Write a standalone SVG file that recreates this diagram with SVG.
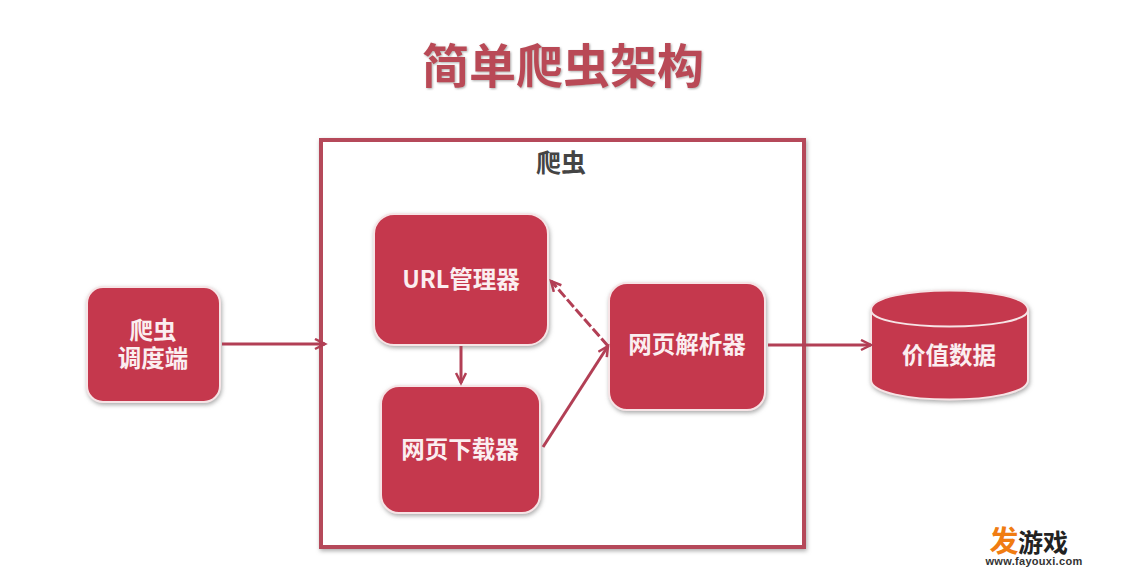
<svg xmlns="http://www.w3.org/2000/svg" width="1128" height="574" viewBox="0 0 1128 574">
<style>
text{font-family:"Noto Sans CJK SC","Liberation Sans",sans-serif;font-weight:700;text-anchor:middle}
.n{fill:#c5394d;stroke:#f6e4e6;stroke-width:2;filter:url(#s)}
.l{fill:#fbeef0;font-size:23.5px}
.c{fill:none;stroke:#b23f55;stroke-width:3}
</style>
<defs>
<filter id="s" x="-10%" y="-10%" width="120%" height="120%"><feDropShadow dx="1" dy="2" stdDeviation="2" flood-color="#888" flood-opacity=".7"/></filter>
<filter id="t" x="-5%" y="-10%" width="110%" height="120%"><feDropShadow dx="1" dy="1" stdDeviation="1" flood-color="#777" flood-opacity=".6"/></filter>
<marker id="a" markerWidth="14" markerHeight="14" refX="11" refY="6" orient="auto" markerUnits="userSpaceOnUse"><path d="M1 1L11 6L1 11" fill="none" stroke="#b23f55" stroke-width="2.5"/></marker>
</defs>
<rect width="1128" height="574" fill="#fff"/>
<text x="563" y="83" font-size="47" fill="#b94a56" filter="url(#t)">简单爬虫架构</text>
<g id="crawler"><rect x="321" y="140" width="483" height="407" fill="#fff" stroke="#b5495a" stroke-width="4" filter="url(#s)"/><text x="561" y="172" font-size="25" fill="#444">爬虫</text></g>
<g id="scheduler"><rect class="n" x="87" y="287" width="133" height="115" rx="16"/><text class="l"><tspan x="153" y="339">爬虫</tspan><tspan x="153" y="367">调度端</tspan></text></g>
<g id="url"><rect class="n" x="374" y="214" width="174" height="131" rx="20"/><text class="l" x="461" y="288">URL管理器</text></g>
<g id="downloader"><rect class="n" x="381" y="386" width="159" height="127" rx="18"/><text class="l" x="460" y="458">网页下载器</text></g>
<g id="parser"><rect class="n" x="609" y="283" width="156" height="127" rx="18"/><text class="l" x="687" y="353">网页解析器</text></g>
<g id="data"><path class="n" d="M871 310C871 284 1028 284 1028 310V380C1028 406 871 406 871 380Z"/><path d="M871 310C871 332 1028 332 1028 310" fill="none" stroke="#f6e4e6" stroke-width="2"/><text class="l" x="949" y="364">价值数据</text></g>
<g id="connectors">
<path class="c" marker-end="url(#a)" d="M222 344H325"/>
<path class="c" marker-end="url(#a)" d="M461 346V383"/>
<path class="c" marker-end="url(#a)" d="M543 447L608 346"/>
<path class="c" marker-end="url(#a)" stroke-width="4" stroke-dasharray="10 3" d="M608 346L551 281"/>
<path class="c" marker-end="url(#a)" d="M768 345H871"/>
</g>
<text font-size="25" fill="#f07c12"><tspan x="1004" y="552" font-size="29">发</tspan><tspan x="1043" y="552" fill="#222">游戏</tspan><tspan x="1034" y="565" font-size="11" fill="#333" font-family="Liberation Sans" letter-spacing=".3">www.fayouxi.com</tspan></text>
</svg>
